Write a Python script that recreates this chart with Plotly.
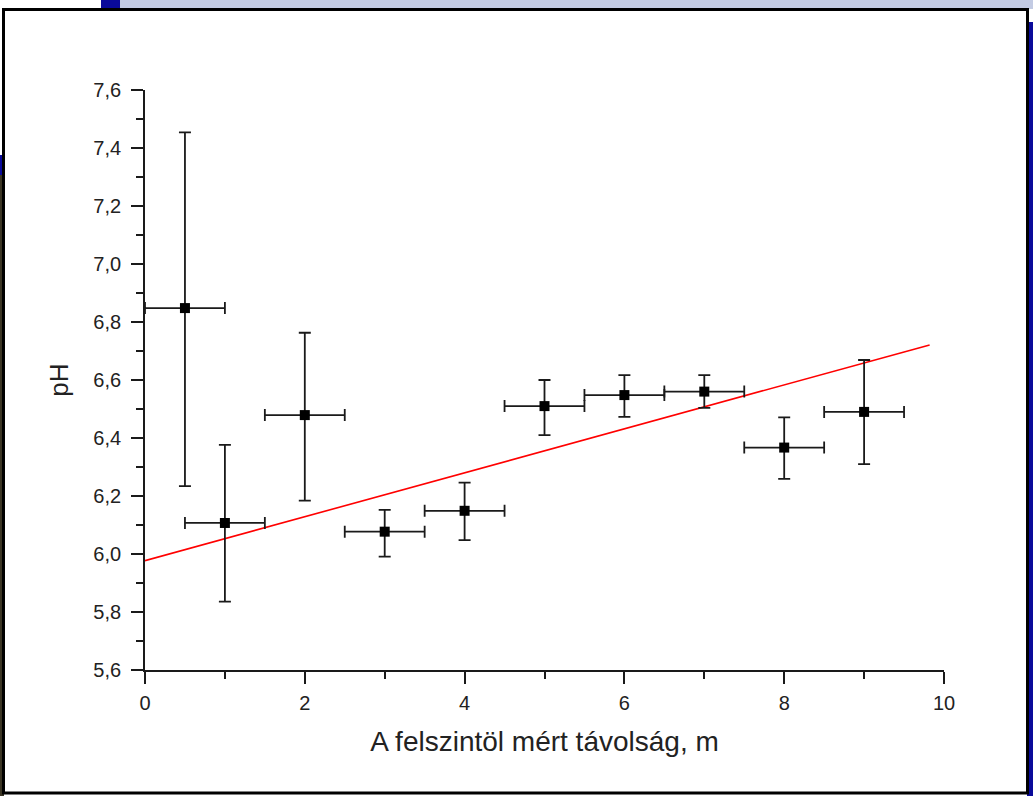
import plotly.graph_objects as go

# Measured pH versus distance from the surface
distance_m = [0.5, 1, 2, 3, 4, 5, 6, 7, 8, 9]
ph_mean = [6.848, 6.107, 6.479, 6.077, 6.149, 6.510, 6.548, 6.560, 6.367, 6.490]
ph_upper = [7.454, 6.376, 6.763, 6.152, 6.246, 6.600, 6.617, 6.617, 6.471, 6.669]
ph_lower = [6.234, 5.836, 6.184, 5.991, 6.048, 6.410, 6.473, 6.504, 6.259, 6.310]
distance_err = [0.5, 0.5, 0.5, 0.5, 0.5, 0.5, 0.5, 0.5, 0.5, 0.5]

# Linear fit line (end points)
fit_x = [0.0, 9.82]
fit_y = [5.977, 6.721]

err_plus = [u - m for u, m in zip(ph_upper, ph_mean)]
err_minus = [m - l for m, l in zip(ph_mean, ph_lower)]

W, H = 1033, 796
L, R, T, B = 145, 944, 90, 670  # plot area in pixels


def px(x):
    return (x - L) / (R - L)


def py(y):
    return (B - y) / (B - T)


fig = go.Figure()

fig.add_trace(go.Scatter(
    x=fit_x, y=fit_y, mode="lines",
    line=dict(color="#ff0000", width=1.6),
    hoverinfo="skip", showlegend=False,
))

fig.add_trace(go.Scatter(
    x=distance_m, y=ph_mean, mode="markers",
    marker=dict(symbol="square", size=10, color="#000000"),
    error_y=dict(type="data", array=err_plus, arrayminus=err_minus,
                 symmetric=False, color="#1a1a1a", thickness=1.8, width=6),
    error_x=dict(type="data", array=distance_err, color="#1a1a1a",
                 thickness=1.8, width=6),
    showlegend=False,
))

font_family = "Liberation Sans, Arial, sans-serif"

# Slide surroundings and the white chart panel
shapes = [
    dict(type="rect", xref="paper", yref="paper", x0=px(0), x1=px(W), y0=py(0), y1=py(9),
         fillcolor="#c3cbe3", line_width=0, layer="below"),
    dict(type="rect", xref="paper", yref="paper", x0=px(0), x1=px(101), y0=py(0), y1=py(9),
         fillcolor="#ffffff", line_width=0, layer="below"),
    dict(type="rect", xref="paper", yref="paper", x0=px(101), x1=px(120), y0=py(0), y1=py(9),
         fillcolor="#0a0a9a", line_width=0, layer="below"),
    dict(type="rect", xref="paper", yref="paper", x0=px(1027), x1=px(W), y0=py(22), y1=py(H),
         fillcolor="#0a0a9a", line_width=0, layer="below"),
    dict(type="rect", xref="paper", yref="paper", x0=px(0), x1=px(4), y0=py(155), y1=py(175),
         fillcolor="#0a0a9a", line_width=0, layer="below"),
    dict(type="rect", xref="paper", yref="paper", x0=px(0), x1=px(4), y0=py(175), y1=py(H),
         fillcolor="#3b3524", line_width=0, layer="below"),
    dict(type="rect", xref="paper", yref="paper", x0=px(3.5), x1=px(1027.5), y0=py(9.5), y1=py(793),
         fillcolor="#ffffff", line=dict(color="#000000", width=3), layer="below"),
]

fig.update_layout(
    width=W, height=H,
    margin=dict(l=L, r=W - R, t=T, b=H - B, pad=0),
    paper_bgcolor="#ffffff",
    plot_bgcolor="rgba(0,0,0,0)",
    separators=", ",
    font=dict(family=font_family, color="#222222"),
    shapes=shapes,
    xaxis=dict(
        range=[0, 10], dtick=2, tick0=0, showgrid=False, zeroline=False,
        showline=True, linecolor="#1a1a1a", linewidth=1.8,
        ticks="outside", ticklen=12, tickwidth=1.8, tickcolor="#1a1a1a",
        minor=dict(dtick=1, ticks="outside", ticklen=7, tickwidth=1.8, tickcolor="#1a1a1a"),
        tickfont=dict(size=20, color="#222222"), ticklabelstandoff=2,
        title=dict(text="A felszintöl mért távolság, m", font=dict(size=28, color="#222222"), standoff=18),
    ),
    yaxis=dict(
        range=[5.6, 7.6], dtick=0.2, tick0=5.6, tickformat=".1f", showgrid=False, zeroline=False,
        showline=True, linecolor="#1a1a1a", linewidth=1.8,
        ticks="outside", ticklen=12, tickwidth=1.8, tickcolor="#1a1a1a",
        minor=dict(dtick=0.1, ticks="outside", ticklen=7, tickwidth=1.8, tickcolor="#1a1a1a"),
        tickfont=dict(size=20, color="#222222"), ticklabelstandoff=6,
        title=dict(text="pH", font=dict(size=26, color="#222222"), standoff=17),
    ),
)

fig.write_html("out.html")
